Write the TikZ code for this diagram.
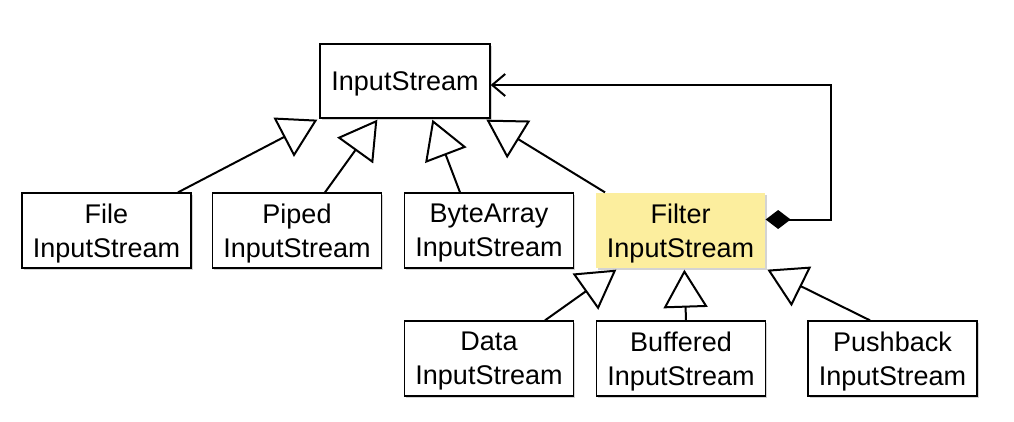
\documentclass[tikz,border=0pt]{standalone}
\usepackage{fontspec}
\setmainfont{Liberation Sans}
\usetikzlibrary{arrows.meta,shadows}
\definecolor{filteryellow}{RGB}{252,238,158}
\tikzset{
  cls/.style={draw=black, line width=1.3pt, fill=white, minimum width=169pt, minimum height=75pt,
    inner sep=0pt, align=center, font=\fontsize{27}{34}\selectfont, text depth=0pt,
    drop shadow={opacity=0.35, shadow xshift=1.5pt, shadow yshift=-2pt}},
  hl/.style={cls, draw=none, fill=filteryellow},
  inh/.style={line width=2pt, -{Triangle[open, length=38pt, width=44pt, line width=2pt, fill=white]}},
  comp/.style={line width=2pt, {Diamond[length=25pt, width=19pt]}-{Straight Barb[length=13pt, width=22pt, line width=2pt]}},
}
\begin{document}
\begin{tikzpicture}[x=1pt, y=-1pt]
\useasboundingbox (0,0) rectangle (1014,421);
\node[cls] (in) at (405,81) [minimum width=170pt, minimum height=74pt] {InputStream};
\node[cls] (file) at (106.5,230.5) {File\\InputStream};
\node[cls] (piped) at (297,230.5) {Piped\\InputStream};
\node[cls] (byte) at (489,230.5) {ByteArray\\InputStream};
\node[hl] (filter) at (680.5,230.5) {Filter\\InputStream};
\node[cls] (data) at (489,358.5) {Data\\InputStream};
\node[cls] (buf) at (681,358.5) {Buffered\\InputStream};
\node[cls] (push) at (892.5,358.5) {Pushback\\InputStream};

\draw[inh] ([xshift=71.5pt]file.north) -- ([xshift=-2pt,yshift=-1pt]in.south west);
\draw[inh] ([xshift=28pt]piped.north) -- ([xshift=58pt,yshift=-1pt]in.south west);
\draw[inh] ([xshift=-29pt]byte.north) -- ([xshift=113pt,yshift=-1pt]in.south west);
\draw[inh] ([xshift=-75.5pt]filter.north) -- ([xshift=167pt,yshift=-1pt]in.south west);
\draw[inh] ([xshift=56pt]data.north) -- ([xshift=21pt,yshift=-1pt]filter.south west);
\draw[inh] ([xshift=5pt]buf.north) -- ([xshift=89pt,yshift=-1pt]filter.south west);
\draw[inh] ([xshift=-22.5pt]push.north) -- ([xshift=172pt,yshift=-1pt]filter.south west);

\draw[comp] ([yshift=11pt]filter.east) -- ++(65,0) |- ([yshift=-4pt]in.east);
\end{tikzpicture}
\end{document}
